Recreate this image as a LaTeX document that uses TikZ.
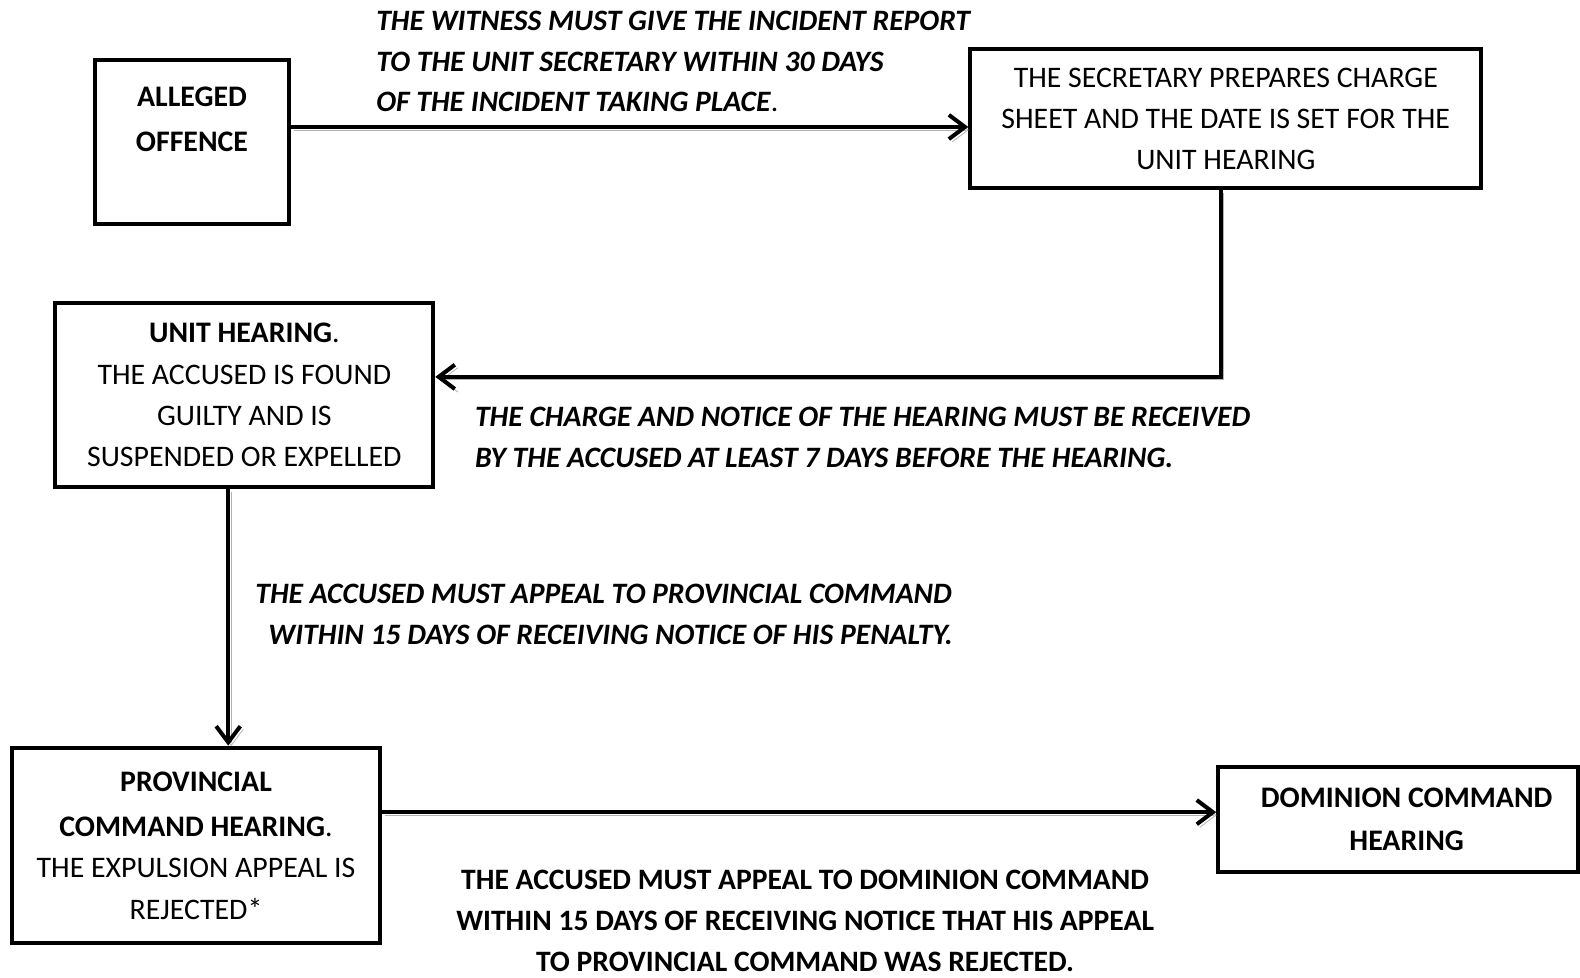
\documentclass[tikz,border=0pt]{standalone}
\usepackage{fontspec}
\setmainfont{Carlito}
\usetikzlibrary{arrows.meta}

\tikzset{
	stepbox/.style={draw, line width=2pt, align=center, inner sep=0pt,
		font=\fontsize{14.8}{20.5}\selectfont},
	note/.style={font=\fontsize{14.7}{20.25}\selectfont\bfseries\itshape, inner sep=0pt},
	flow/.style={line width=2pt, -{Straight Barb[length=8pt,width=12pt]},
		preaction={draw=gray!60, transform canvas={shift={(1.5pt,-1.5pt)}}}}
}

\begin{document}
\begin{tikzpicture}[x=0.5pt,y=-0.5pt]
	\useasboundingbox (0,0) rectangle (1568,970);
	% boxes
	\node[stepbox, minimum width=96.5pt, minimum height=81pt] (offence) at (190.5,141)
		{\textbf{ALLEGED}\\[2pt]\textbf{OFFENCE}\\[2pt]\mbox{}};
	\node[stepbox, minimum width=253.5pt, minimum height=69pt] (secretary) at (1216.5,118)
		{THE SECRETARY PREPARES CHARGE\\SHEET AND THE DATE IS SET FOR THE\\UNIT HEARING};
	\node[stepbox, minimum width=187.5pt, minimum height=91pt] (unit) at (242.5,392)
		{\textbf{UNIT HEARING}.\\THE ACCUSED IS FOUND\\GUILTY AND IS\\SUSPENDED OR EXPELLED};
	\node[stepbox, minimum width=182.5pt, minimum height=97pt] (provincial) at (194.5,839)
		{\textbf{PROVINCIAL}\\[2pt]\textbf{COMMAND HEARING}.\\THE EXPULSION APPEAL IS\\REJECTED*};
	\node[stepbox, minimum width=178.5pt, minimum height=52pt] (dominion) at (1387.5,813)
		{\hspace*{8.5pt}\textbf{DOMINION COMMAND}\\[1pt]\hspace*{8.5pt}\textbf{HEARING}};
	% notes
	\node[note, anchor=west, align=left] (witness) at (373,61)
		{THE WITNESS MUST GIVE THE INCIDENT REPORT\\TO THE UNIT SECRETARY WITHIN 30 DAYS\\OF THE INCIDENT TAKING PLACE\textup{\mdseries .}};
	\node[note, anchor=west, align=left] (notice) at (471,434)
		{THE CHARGE AND NOTICE OF THE HEARING MUST BE RECEIVED\\BY THE ACCUSED AT LEAST 7 DAYS BEFORE THE HEARING.};
	\node[note, align=center] (appeal1) at (599,610)
		{THE ACCUSED MUST APPEAL TO PROVINCIAL COMMAND\\\hspace*{7pt}WITHIN 15 DAYS OF RECEIVING NOTICE OF HIS PENALTY.};
	\node[note, align=center, font=\fontsize{14.7}{20.25}\selectfont\bfseries] (appeal2) at (799,914)
		{THE ACCUSED MUST APPEAL TO DOMINION COMMAND\\WITHIN 15 DAYS OF RECEIVING NOTICE THAT HIS APPEAL\\TO PROVINCIAL COMMAND WAS REJECTED.};
	% connectors
	\draw[flow] ([yshift=7.5pt]offence.east) -- ([yshift=7.5pt]offence.east -| secretary.west);
	\draw[flow] ([xshift=-2.5pt]secretary.south) |- ([yshift=9pt]unit.east);
	\draw[flow] ([xshift=-8pt]unit.south) -- ([xshift=-8pt]unit.south |- provincial.north);
	\draw[flow] ([yshift=16.5pt]provincial.east) -- ([yshift=16.5pt]provincial.east -| dominion.west);
\end{tikzpicture}
\end{document}
